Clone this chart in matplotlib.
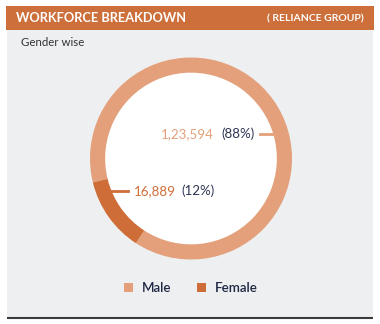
import matplotlib.pyplot as plt
from matplotlib.patches import Rectangle, Circle

plt.rcParams['font.family'] = ['Lato', 'DejaVu Sans']

labels = ["Male", "Female"]
counts = [123594, 16889]
colors = ["#E3A07B", "#CE6D37"]
num_colors = ["#E3A07B", "#D06E3A"]


def indian(n):
    # 1,23,594 style grouping
    s = str(n)
    if len(s) <= 3:
        return s
    head, tail = s[:-3], s[-3:]
    parts = []
    while len(head) > 2:
        parts.insert(0, head[-2:])
        head = head[:-2]
    if head:
        parts.insert(0, head)
    return ",".join(parts) + "," + tail


W, H = 380, 324
fig = plt.figure(figsize=(W / 100, H / 100), dpi=100)

# background / frame in pixel coords
bg = fig.add_axes([0, 0, 1, 1])
bg.set_xlim(0, W)
bg.set_ylim(H, 0)
bg.axis("off")
bg.add_patch(Rectangle((7, 29), 366, 288, color="#EEEFF1", lw=0))
bg.add_patch(Rectangle((6, 6), 368, 23.5, color="#CD6F3B", lw=0))
bg.plot([7, 373], [317.5, 317.5], color="#3A3A3A", lw=1.5, solid_capstyle="butt")
bg.text(16, 18, "WORKFORCE BREAKDOWN", color="white", fontsize=9.2,
        fontweight="bold", va="center", ha="left")
bg.text(364, 18.5, "( RELIANCE GROUP)", color="white", fontsize=7.5,
        fontweight="bold", va="center", ha="right")
bg.text(21, 43, "Gender wise", color="#333333", fontsize=8.3, va="center")

# donut
cx, cy, r = 191, 158.5, 101
ax = fig.add_axes([(cx - r) / W, (H - cy - r) / H, 2 * r / W, 2 * r / H])
wedges, _ = ax.pie(counts, colors=colors, startangle=237, counterclock=True,
                   radius=1, wedgeprops=dict(width=0.15, linewidth=0))
ax.add_patch(Circle((0, 0), 0.85, color="white", zorder=0))
ax.set_xlim(-1, 1)
ax.set_ylim(-1, 1)
ax.axis("off")

total = sum(counts)
pcts = [round(c / total * 100) for c in counts]

# male label
ax.plot([260, 276], [134, 134], color=colors[0], lw=2, transform=bg.transData, clip_on=False)
ax.text(214, 134, indian(counts[0]), color=num_colors[0],
        fontsize=9.6, ha="right", va="center", transform=bg.transData)
ax.text(255, 134, f"({pcts[0]}%)", color="#2B3552", fontsize=9.6,
        ha="right", va="center", transform=bg.transData)

# female label
ax.plot([108, 128], [191, 191], color=colors[1], lw=2, transform=bg.transData, clip_on=False)
ax.text(134, 191, indian(counts[1]), color=num_colors[1], fontsize=9.6,
        ha="left", va="center", transform=bg.transData)
ax.text(181, 191, f"({pcts[1]}%)", color="#2B3552", fontsize=9.6,
        ha="left", va="center", transform=bg.transData)

leg = fig.legend(wedges, labels, loc="center", bbox_to_anchor=(191 / W, 1 - 288 / H),
                 ncol=2, frameon=False, fontsize=9.6, handlelength=0.65,
                 handleheight=0.65, handletextpad=0.7, columnspacing=1.9)
for t in leg.get_texts():
    t.set_color("#1F2744")
    t.set_fontweight("semibold")

fig.savefig("out.png", dpi=100)
